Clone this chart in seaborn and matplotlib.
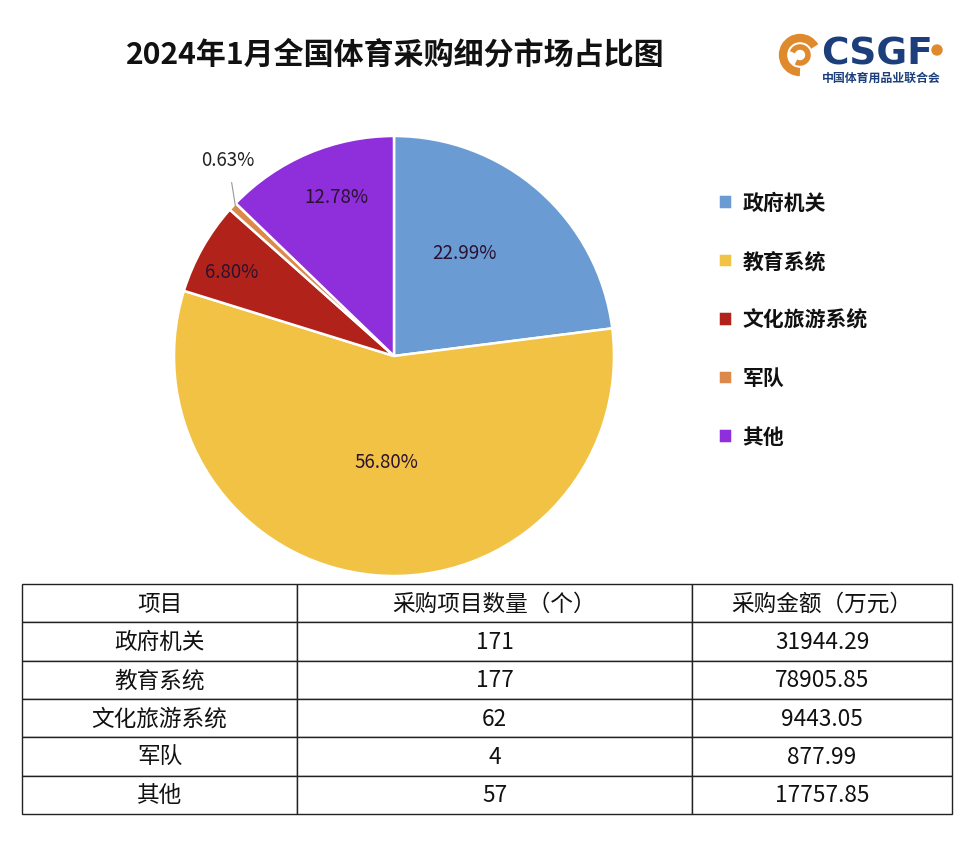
import matplotlib.pyplot as plt
import numpy as np
import seaborn as sns
from matplotlib.patches import Arc, Circle

categories = ["政府机关", "教育系统", "文化旅游系统", "军队", "其他"]
counts = [171, 177, 62, 4, 57]
amounts = [31944.29, 78905.85, 9443.05, 877.99, 17757.85]
amount_labels = ["31944.29", "78905.85", "9443.05", "877.99", "17757.85"]
colors = ["#6A9BD3", "#F2C244", "#B1231A", "#DC8A4C", "#8E2FDB"]
headers = ["项目", "采购项目数量（个）", "采购金额（万元）"]

sns.set_theme(style="white")
plt.rcParams["font.family"] = ["Noto Sans CJK SC", "DejaVu Sans"]

W, H = 975, 853
fig = plt.figure(figsize=(W / 100, H / 100), dpi=100)

# title
fig.text(395 / W, 1 - 55 / H, "2024年1月全国体育采购细分市场占比图",
         ha="center", va="center", fontsize=21.6, fontweight="bold", color="#111111")

# pie
cx, cy, r = 394, 357, 220
ax = fig.add_axes([(cx - r) / W, (H - cy - r) / H, 2 * r / W, 2 * r / H])
wedges, _ = ax.pie(amounts, colors=colors, startangle=90, counterclock=False,
                   wedgeprops=dict(edgecolor="white", linewidth=1.8))
ax.set_xlim(-1, 1)
ax.set_ylim(-1, 1)
ax.axis("off")

total = sum(amounts)
shares = [a / total * 100 for a in amounts]
label_r = [0.57, 0.48, 0.83, None, 0.77]
label_da = [7, 1, 2, 0, -3]
for w, s, lr, da in zip(wedges, shares, label_r, label_da):
    mid = np.deg2rad((w.theta1 + w.theta2) / 2 + da)
    txt = f"{s:.2f}%"
    if lr is None:
        ax.annotate(txt, xy=(0.98 * np.cos(mid), 0.98 * np.sin(mid)),
                    xytext=(-0.755, 0.895), ha="center", va="center",
                    fontsize=13.5, color="#222222",
                    arrowprops=dict(arrowstyle="-", color="#999999", lw=0.8,
                                    shrinkA=7, shrinkB=0))
    else:
        ax.text(lr * np.cos(mid), lr * np.sin(mid), txt, ha="center", va="center",
                fontsize=13.5, color="#2a1230")

# legend
leg = ax.legend(wedges, categories, loc="upper left",
                bbox_to_anchor=((699 - cx + r) / (2 * r), (cy + r - 174) / (2 * r)),
                frameon=False, fontsize=15, handlelength=0.7, handleheight=0.7,
                labelspacing=1.8, handletextpad=0.5)
for t in leg.get_texts():
    t.set_fontweight("bold")
    t.set_color("#111111")

# table
tx0, tx1, ty0, ty1 = 22, 952, 585, 815
tax = fig.add_axes([tx0 / W, (H - ty1) / H, (tx1 - tx0) / W, (ty1 - ty0) / H])
tax.axis("off")
rows = [[c, str(n), a] for c, n, a in zip(categories, counts, amount_labels)]
col_w = np.array([275, 395, 260]) / 930
tbl = tax.table(cellText=rows, colLabels=headers, colWidths=col_w,
                cellLoc="center", bbox=[0, 0, 1, 1])
tbl.auto_set_font_size(False)
for (i, j), cell in tbl.get_celld().items():
    cell.set_edgecolor("#222222")
    cell.set_linewidth(1)
    cell.get_text().set_fontsize(16.3)
    cell.get_text().set_color("#111111")

# logo
lax = fig.add_axes([0, 0, 1, 1], zorder=-1)
lax.set_xlim(0, W)
lax.set_ylim(H, 0)
lax.axis("off")
lax.add_patch(Arc((800, 56), 34, 34, theta1=90, theta2=330, color="#E08A2E", lw=6))
lax.add_patch(Arc((800, 56), 16, 16, theta1=200, theta2=480, color="#E08A2E", lw=4))
lax.text(821, 64, "CSGF", ha="left", va="baseline", fontsize=27, fontweight="heavy",
         color="#1C3F7C", family=["DejaVu Sans"])
lax.add_patch(Circle((937, 51), 5, color="#E08A2E"))
lax.text(822, 78, "中国体育用品业联合会", ha="left", va="center", fontsize=8.6,
         fontweight="bold", color="#1C3F7C")

fig.savefig("out.png", dpi=100)
